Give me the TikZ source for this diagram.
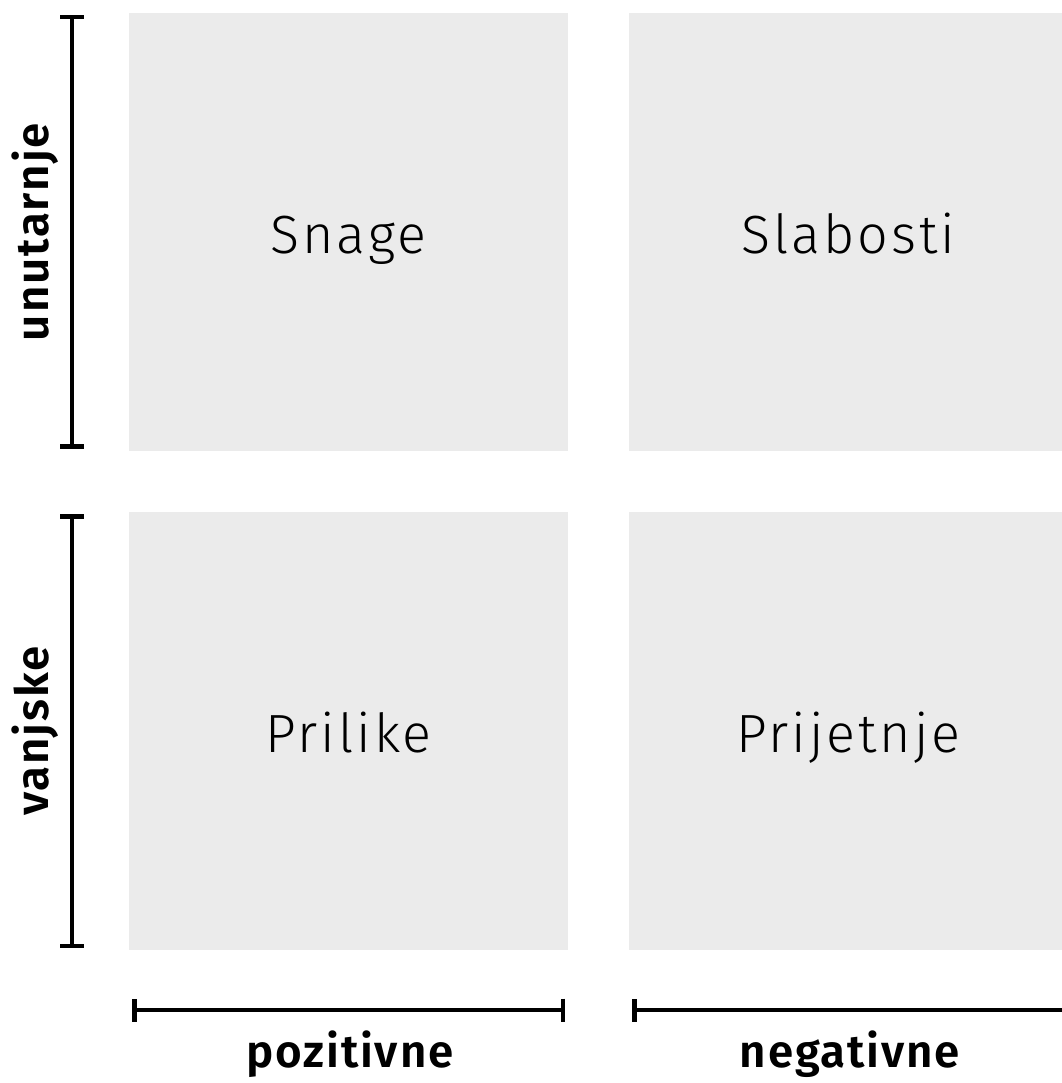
\documentclass[tikz,border=0pt]{standalone}
\usepackage{fontspec}
\setmainfont{Fira Sans}
\newfontfamily\quadfont{Fira Sans Light}[LetterSpace=5.5]
\newfontfamily\axisfont{Fira Sans SemiBold}[LetterSpace=4]
\usetikzlibrary{arrows.meta}
\definecolor{boxgray}{HTML}{EBEBEB}

\begin{document}
\begin{tikzpicture}[x=0.01cm,y=-0.01cm,
    quad/.style={fill=boxgray, minimum width=4.39cm, minimum height=4.38cm, inner sep=0pt,
        text height=0.42cm, text depth=0pt,
        font=\quadfont\fontsize{15.3}{18}\selectfont},
    axislabel/.style={inner sep=0pt, font=\axisfont\fontsize{13}{16}\selectfont},
    bar/.style={line width=0.045cm, {Bar[width=0.23cm]}-{Bar[width=0.23cm]}}]
    \useasboundingbox (0,0) rectangle (1061,1083);
    % the four fields
    \node[quad] (snage) at (348.5,232) {Snage};
    \node[quad] (slabosti) at (848.5,232) {Slabosti};
    \node[quad] (prilike) at (348.5,731) {Prilike};
    \node[quad] (prijetnje) at (848.5,731) {Prijetnje};
    % axes
    \coordinate (unutarnjetop) at (72,15);
    \coordinate (unutarnjebot) at (72,449);
    \coordinate (vanjsketop) at (72,514);
    \coordinate (vanjskebot) at (72,948);
    \coordinate (pozleft) at (132,1010);
    \coordinate (pozright) at (565,1010);
    \coordinate (negleft) at (632,1010);
    \coordinate (negright) at (1070,1010);
    \draw[bar] (unutarnjetop) -- (unutarnjebot);
    \draw[bar] (vanjsketop) -- (vanjskebot);
    \draw[bar] (pozleft) -- (pozright);
    \draw[bar] (negleft) -- (negright);
    \node[axislabel, rotate=90] (unutarnje) at (35,232) {unutarnje};
    \node[axislabel, rotate=90] (vanjske) at (35,731) {vanjske};
    \node[axislabel, anchor=base] (pozitivne) at (350,1067) {pozitivne};
    \node[axislabel, anchor=base] (negativne) at (850,1067) {negativne};
\end{tikzpicture}
\end{document}
